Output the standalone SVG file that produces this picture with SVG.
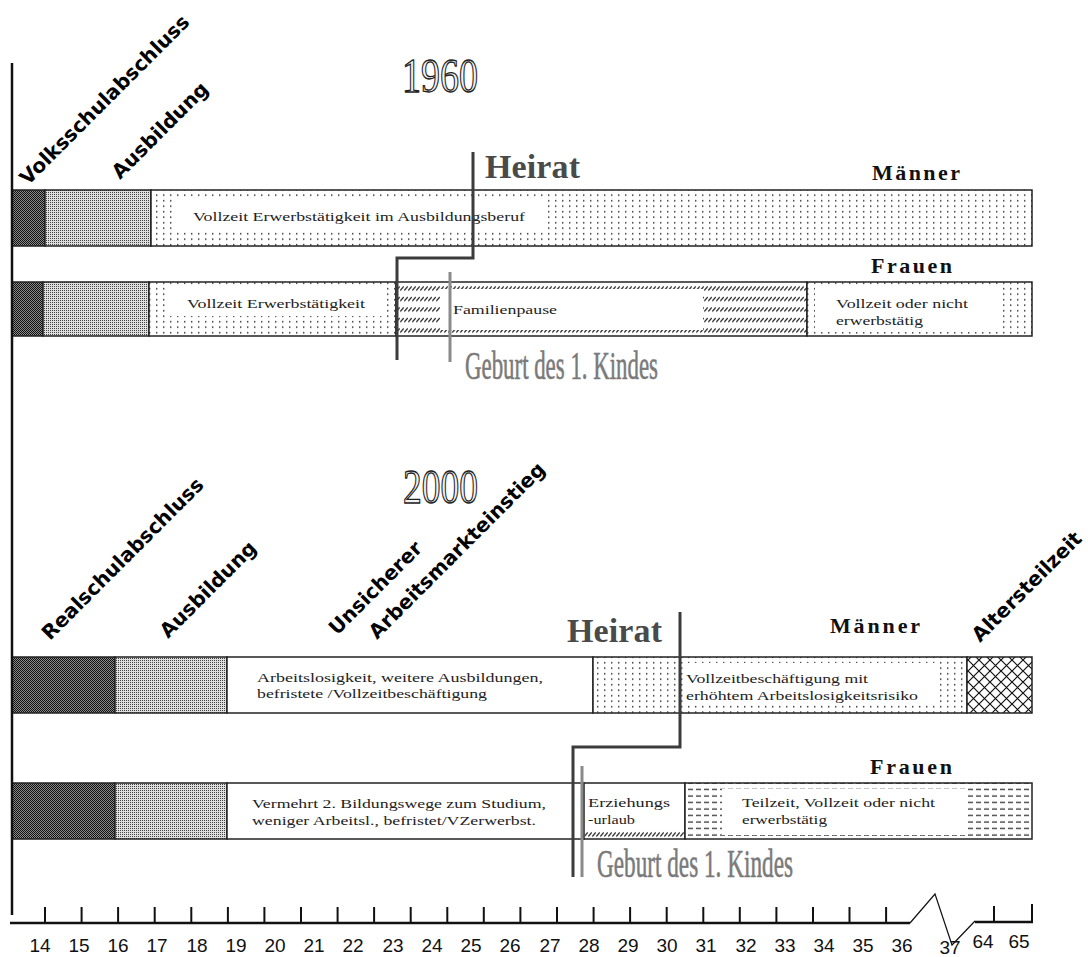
<svg xmlns="http://www.w3.org/2000/svg" width="1088" height="957" viewBox="0 0 1088 957">
<style>
 .rot{font-family:"DejaVu Sans",Verdana,sans-serif;font-weight:bold;font-size:20px;fill:#000}
 .yr{font-family:"Liberation Serif",serif;font-size:48px;fill:#f2f2f2;stroke:#222;stroke-width:1.3}
 .heirat{font-family:"Liberation Serif",serif;font-weight:bold;font-size:34px;fill:#4a4a4a}
 .sex{font-family:"Liberation Serif",serif;font-weight:bold;font-size:22px;fill:#111}
 .small{font-family:"Liberation Serif",serif;font-size:13px;fill:#222}
 .geburt{font-family:"Liberation Serif",serif;font-size:40px;fill:#7a7a7a;stroke:#7a7a7a;stroke-width:0.6}
 .axl{font-family:"Liberation Sans",Arial,sans-serif;font-size:19px;fill:#111;text-anchor:middle}
 .seg{stroke:#222;stroke-width:1.5}
 .wb{fill:#fff}
 .heiratline{fill:none;stroke:#3c3c3c;stroke-width:3}
 .geburtline{fill:none;stroke:#8a8a8a;stroke-width:3}
 .tick{fill:none;stroke:#111;stroke-width:2}
</style>
<defs>
 <pattern id="pDark" width="2" height="2" patternUnits="userSpaceOnUse"><rect width="2" height="2" fill="#8a8a8a"/><rect width="1" height="1" fill="#111"/><rect x="1" y="1" width="1" height="1" fill="#111"/></pattern>
 <pattern id="pMed" width="2" height="2" patternUnits="userSpaceOnUse"><rect width="2" height="2" fill="#dedede"/><rect width="1" height="1" fill="#444"/></pattern>
 <pattern id="pDot" width="7" height="5.5" patternUnits="userSpaceOnUse"><rect width="7" height="5.5" fill="#fff"/><rect x="2" y="2" width="1.4" height="1.4" fill="#222"/></pattern>
 <pattern id="pHatch" width="4" height="10.5" patternUnits="userSpaceOnUse"><rect width="4" height="10.5" fill="#fff"/><path d="M0.3,7 L3.7,3" stroke="#111" stroke-width="1.1"/></pattern>
 <pattern id="pCross" width="11" height="11" patternUnits="userSpaceOnUse"><rect width="11" height="11" fill="#fff"/><path d="M0,0 L11,11 M11,0 L0,11" stroke="#111" stroke-width="1.2"/></pattern>
 <pattern id="pDash" width="8" height="6.5" patternUnits="userSpaceOnUse"><rect width="8" height="6.5" fill="#fff"/><path d="M0,3 H5" stroke="#111" stroke-width="1.1"/></pattern>
</defs>
<rect width="1088" height="957" fill="#fff"/>

<!-- titles -->
<g id="title1960"><text class="yr" x="402" y="92" textLength="76" lengthAdjust="spacingAndGlyphs">1960</text></g>
<g id="title2000"><text class="yr" x="403" y="503" textLength="75" lengthAdjust="spacingAndGlyphs">2000</text></g>

<!-- rotated labels -->
<g id="lbl-volksschulabschluss"><text class="rot" transform="translate(28,186) rotate(-45)">Volksschulabschluss</text></g>
<g id="lbl-ausbildung1960"><text class="rot" transform="translate(120,180) rotate(-45)">Ausbildung</text></g>
<g id="lbl-realschulabschluss"><text class="rot" transform="translate(50,641) rotate(-45)">Realschulabschluss</text></g>
<g id="lbl-ausbildung2000"><text class="rot" transform="translate(168,639) rotate(-45)">Ausbildung</text></g>
<g id="lbl-unsicher"><text class="rot" transform="translate(337,636) rotate(-45)">Unsicherer</text><text class="rot" transform="translate(377,640) rotate(-45)">Arbeitsmarkteinstieg</text></g>
<g id="lbl-altersteilzeit"><text class="rot" transform="translate(980,643) rotate(-45)">Altersteilzeit</text></g>

<!-- sex labels -->
<g id="lbl-maenner1960"><text class="sex" x="872" y="180" textLength="88" lengthAdjust="spacing">Männer</text></g>
<g id="lbl-frauen1960"><text class="sex" x="871" y="273" textLength="81" lengthAdjust="spacing">Frauen</text></g>
<g id="lbl-maenner2000"><text class="sex" x="830" y="633" textLength="90" lengthAdjust="spacing">Männer</text></g>
<g id="lbl-frauen2000"><text class="sex" x="870" y="774" textLength="82" lengthAdjust="spacing">Frauen</text></g>

<!-- 1960 Männer bar -->
<g id="m1960-schule"><rect class="seg" x="12" y="190" width="33" height="56" fill="url(#pDark)"/></g>
<g id="m1960-ausbildung"><rect class="seg" x="45" y="190" width="106" height="56" fill="url(#pMed)"/></g>
<g id="m1960-vollzeit"><rect class="seg" x="151" y="190" width="881" height="56" fill="url(#pDot)"/><rect class="wb" x="172" y="199" width="376" height="31"/><text class="small" x="193" y="221" textLength="332" lengthAdjust="spacingAndGlyphs">Vollzeit Erwerbstätigkeit im Ausbildungsberuf</text></g>

<!-- 1960 Frauen bar -->
<g id="f1960-schule"><rect class="seg" x="12" y="282" width="31" height="54" fill="url(#pDark)"/></g>
<g id="f1960-ausbildung"><rect class="seg" x="43" y="282" width="106" height="54" fill="url(#pMed)"/></g>
<g id="f1960-vollzeit"><rect class="seg" x="149" y="282" width="247" height="54" fill="url(#pDot)"/><rect class="wb" x="168" y="286" width="214" height="30"/><text class="small" x="187" y="308" textLength="178" lengthAdjust="spacingAndGlyphs">Vollzeit Erwerbstätigkeit</text></g>
<g id="f1960-familienpause"><rect class="seg" x="396" y="282" width="411" height="54" fill="url(#pHatch)"/><rect class="wb" x="440" y="289" width="263" height="41"/><text class="small" x="453" y="314" textLength="104" lengthAdjust="spacingAndGlyphs">Familienpause</text></g>
<g id="f1960-spaeter"><rect class="seg" x="807" y="282" width="225" height="54" fill="url(#pDot)"/><rect class="wb" x="815" y="287" width="183" height="45"/><text class="small" x="836" y="308" textLength="132" lengthAdjust="spacingAndGlyphs">Vollzeit oder nicht</text><text class="small" x="836" y="325" textLength="87" lengthAdjust="spacingAndGlyphs">erwerbstätig</text></g>

<!-- 2000 Männer bar -->
<g id="m2000-schule"><rect class="seg" x="12" y="657" width="103" height="56" fill="url(#pDark)"/></g>
<g id="m2000-ausbildung"><rect class="seg" x="115" y="657" width="112" height="56" fill="url(#pMed)"/></g>
<g id="m2000-einstieg"><rect class="seg" x="227" y="657" width="366" height="56" fill="#fff"/><text class="small" x="257" y="682" textLength="286" lengthAdjust="spacingAndGlyphs">Arbeitslosigkeit, weitere  Ausbildungen,</text><text class="small" x="257" y="698" textLength="230" lengthAdjust="spacingAndGlyphs">befristete /Vollzeitbeschäftigung</text></g>
<g id="m2000-vorheirat"><rect class="seg" x="593" y="657" width="87" height="56" fill="url(#pDot)"/></g>
<g id="m2000-vollzeit"><rect class="seg" x="680" y="657" width="287" height="56" fill="url(#pDot)"/><rect class="wb" x="684" y="663" width="254" height="42"/><text class="small" x="686" y="683" textLength="182" lengthAdjust="spacingAndGlyphs">Vollzeitbeschäftigung mit</text><text class="small" x="686" y="700" textLength="232" lengthAdjust="spacingAndGlyphs">erhöhtem Arbeitslosigkeitsrisiko</text></g>
<g id="m2000-altersteilzeit"><rect class="seg" x="967" y="657" width="65" height="56" fill="url(#pCross)"/></g>

<!-- 2000 Frauen bar -->
<g id="f2000-schule"><rect class="seg" x="12" y="783" width="103" height="56" fill="url(#pDark)"/></g>
<g id="f2000-ausbildung"><rect class="seg" x="115" y="783" width="112" height="56" fill="url(#pMed)"/></g>
<g id="f2000-bildungswege"><rect class="seg" x="227" y="783" width="357" height="56" fill="#fff"/><text class="small" x="252" y="808" textLength="294" lengthAdjust="spacingAndGlyphs">Vermehrt 2. Bildungswege zum Studium,</text><text class="small" x="252" y="825" textLength="284" lengthAdjust="spacingAndGlyphs">weniger Arbeitsl., befristet/VZerwerbst.</text></g>
<g id="f2000-erziehungsurlaub"><rect class="seg" x="584" y="783" width="101" height="56" fill="#fff"/><rect x="585" y="830" width="99" height="8" fill="url(#pHatch)"/><text class="small" x="588" y="807" textLength="82" lengthAdjust="spacingAndGlyphs">Erziehungs</text><text class="small" x="588" y="824" textLength="47" lengthAdjust="spacingAndGlyphs">-urlaub</text></g>
<g id="f2000-teilzeit"><rect class="seg" x="685" y="783" width="347" height="56" fill="url(#pDash)"/><rect class="wb" x="722" y="789" width="245" height="46"/><text class="small" x="742" y="807" textLength="193" lengthAdjust="spacingAndGlyphs">Teilzeit, Vollzeit oder nicht</text><text class="small" x="742" y="824" textLength="85" lengthAdjust="spacingAndGlyphs">erwerbstätig</text></g>

<!-- event markers -->
<g id="connectors">
 <path class="heiratline" d="M473,152 V258 H397 V360"/>
 <path class="geburtline" d="M450,272 V362"/>
 <path class="heiratline" d="M680,612 V747 H573 V877"/>
 <path class="geburtline" d="M582,766 V877"/>
</g>
<g id="lbl-heirat1960"><text class="heirat" x="485" y="178" textLength="95" lengthAdjust="spacing">Heirat</text></g>
<g id="lbl-heirat2000"><text class="heirat" x="567" y="642" textLength="95" lengthAdjust="spacing">Heirat</text></g>
<g id="lbl-geburt1960"><text class="geburt" x="465" y="379" textLength="193" lengthAdjust="spacingAndGlyphs">Geburt des 1. Kindes</text></g>
<g id="lbl-geburt2000"><text class="geburt" x="597" y="877" textLength="196" lengthAdjust="spacingAndGlyphs">Geburt des 1. Kindes</text></g>

<!-- axes -->
<g id="axis">
 <path d="M12,63 V915" fill="none" stroke="#111" stroke-width="2.5"/>
 <path d="M10,923 H910" fill="none" stroke="#111" stroke-width="2.5"/>
 <path d="M910,923 L935,894 L952,945 L975,921" fill="none" stroke="#111" stroke-width="1.2"/>
 <path d="M975,922 H1033" fill="none" stroke="#111" stroke-width="2.5"/>
 <path class="tick" d="M45,923V907 M81.6,923V907 M118.1,923V907 M154.7,923V907 M191.3,923V907 M227.9,923V907 M264.4,923V907 M301,923V907 M337.6,923V907 M374.1,923V907 M410.7,923V907 M447.3,923V907 M483.8,923V907 M520.4,923V907 M557,923V907 M593.6,923V907 M630.1,923V907 M666.7,923V907 M703.3,923V907 M739.8,923V907 M776.4,923V907 M813,923V907 M849.5,923V907 M886.1,923V907 M994,922V906 M1032,923V904"/>
 <text class="axl" x="40" y="952">14</text>
 <text class="axl" x="79" y="952">15</text>
 <text class="axl" x="118" y="952">16</text>
 <text class="axl" x="157" y="952">17</text>
 <text class="axl" x="197" y="952">18</text>
 <text class="axl" x="236" y="952">19</text>
 <text class="axl" x="275" y="952">20</text>
 <text class="axl" x="314" y="952">21</text>
 <text class="axl" x="353" y="952">22</text>
 <text class="axl" x="393" y="952">23</text>
 <text class="axl" x="432" y="952">24</text>
 <text class="axl" x="471" y="952">25</text>
 <text class="axl" x="510" y="952">26</text>
 <text class="axl" x="550" y="952">27</text>
 <text class="axl" x="589" y="952">28</text>
 <text class="axl" x="628" y="952">29</text>
 <text class="axl" x="667" y="952">30</text>
 <text class="axl" x="706" y="952">31</text>
 <text class="axl" x="746" y="952">32</text>
 <text class="axl" x="785" y="952">33</text>
 <text class="axl" x="824" y="952">34</text>
 <text class="axl" x="863" y="952">35</text>
 <text class="axl" x="902" y="952">36</text>
 <text class="axl" x="950" y="954">37</text>
 <text class="axl" x="983" y="948">64</text>
 <text class="axl" x="1019" y="948">65</text>
</g>
</svg>
